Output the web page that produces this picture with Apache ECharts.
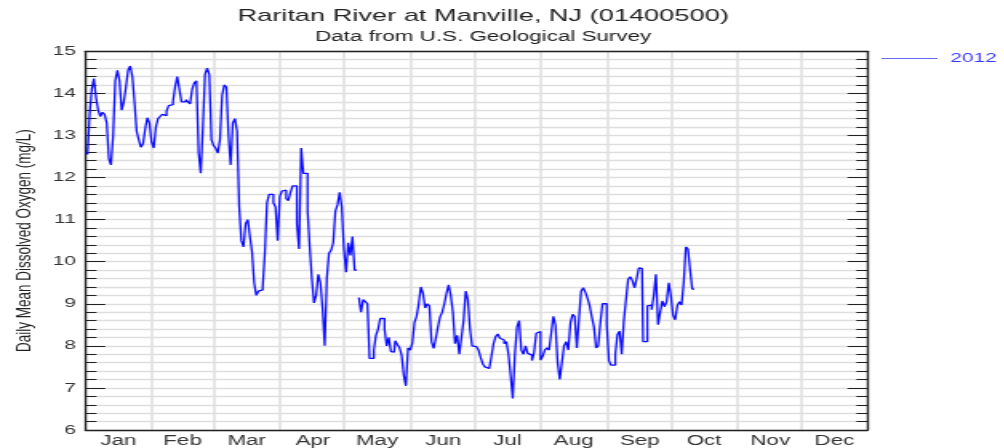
<!DOCTYPE html>
<html>
<head>
<meta charset="utf-8">
<script src="https://cdn.jsdelivr.net/npm/echarts@6/dist/echarts.min.js"></script>
<style>
    html, body { margin: 0; padding: 0; background: #fff; overflow: hidden; }
    /* the original picture is a chart stretched sideways, so draw narrow and stretch */
    #myChart {
        width: 627.5px;
        height: 448px;
        transform: scaleX(1.6);
        transform-origin: 0 0;
    }
</style>
</head>
<body>
<div id="myChart"></div>
<script>
    const monthNames = ['Jan', 'Feb', 'Mar', 'Apr', 'May', 'Jun', 'Jul', 'Aug', 'Sep', 'Oct', 'Nov', 'Dec']
    const monthDays = [31, 29, 31, 30, 31, 30, 31, 31, 30, 31, 30, 31]
    const yTicks = [6, 7, 8, 9, 10, 11, 12, 13, 14, 15]
    const seriesName = '2012'

    // daily mean dissolved oxygen (mg/L), from Jan 1 2012, null = missing day
    const janValues = [12.6, 12.55, 13.5, 14.1, 14.35, 13.9, 13.6, 13.45, 13.55, 13.5, 13.3, 12.45, 12.3, 13.0, 14.3, 14.55,
        14.3, 13.6, 13.8, 14.15, 14.55, 14.65, 14.4, 13.8, 13.1, 12.9, 12.72, 12.8, 13.15, 13.42, 13.3]
    const febValues = [12.84, 12.7, 13.2, 13.4, 13.45, 13.5, 13.47, 13.58, 13.71, 13.73, 13.8, 14.15, 14.4, 14.1, 13.8,
        13.8, 13.85, 13.8, 13.75, 14.1, 14.25, 14.3, 12.6, 12.1, 13.2, 14.45, 14.6, 14.45, 12.9]
    const marValues = [12.76, 12.7, 12.58, 12.9, 13.95, 14.2, 14.15, 13.0, 12.3, 13.3, 13.4, 13.1, 11.3, 10.5, 10.35, 10.9,
        11.0, 10.6, 10.23, 9.5, 9.2, 9.3, 9.33, 9.4, 10.2, 11.4, 11.6, 11.6, 11.4, 11.3, 10.5]
    const aprValues = [11.55, 11.68, 11.7, 11.5, 11.45, 11.65, 11.8, 11.8, 10.9, 10.3, 12.7, 12.1, 12.1, 11.2, 10.35, 9.6,
        9.02, 9.2, 9.7, 9.5, 8.9, 8.0, 9.6, 10.2, 10.27, 10.45, 11.2, 11.35, 11.65, 11.3]
    const mayValues = [10.3, 9.75, 10.45, 10.15, 10.6, 9.8, null, 9.15, 8.8, 9.1, 9.05, 9.0, 7.7, 7.7, 7.9, 8.25, 8.4,
        8.65, 8.65, 8.4, 8.0, 8.2, 7.86, 7.85, 8.12, 8.03, 7.96, 7.78, 7.3, 7.05, 7.95]
    const junValues = [7.9, 8.06, 8.55, 8.7, 9.0, 9.4, 9.25, 8.9, 9.0, 8.95, 8.1, 7.94, 8.18, 8.45, 8.69, 8.8, 9.0, 9.25,
        9.45, 9.2, 8.8, 8.05, 8.25, 7.8, 8.2, 8.6, 9.3, 9.1, 8.4, 8.0]
    const julValues = [7.98, 7.94, 7.9, 7.72, 7.57, 7.5, 7.46, 7.5, 7.74, 8.05, 8.22, 8.28, 8.18, 8.14, 8.05, 8.1, 7.8,
        7.3, 6.75, 7.8, 8.45, 8.6, 7.9, 7.8, 8.0, 7.82, 7.78, 7.65, 7.85, 8.3, 8.34]
    const augValues = [7.66, 7.75, 7.9, 7.95, 7.9, 8.3, 8.7, 8.49, 7.6, 7.2, 7.6, 8.0, 8.1, 7.9, 8.55, 8.75, 8.7, 7.95,
        8.65, 9.3, 9.38, 9.27, 9.13, 8.95, 8.69, 8.45, 7.95, 8.0, 8.55, 9.0, 9.0]
    const sepValues = [8.5, 7.65, 7.54, 7.54, 7.8, 8.27, 8.35, 7.8, 8.6, 9.1, 9.58, 9.64, 9.55, 9.38, 9.6, 9.85, 9.84,
        8.1, 8.1, 8.95, 8.97, 8.86, 9.2, 9.7, 8.5, 8.8, 9.07, 8.93, 9.05, 9.5]
    const octValues = [9.2, 8.73, 8.62, 8.95, 9.05, 8.97, 9.5, 10.35, 10.3, 9.8, 9.35]

    // one category per day of 2012
    let days = []
    let monthStarts = []
    let monthMids = []
    monthDays.forEach((n, m) => {
        monthStarts.push(days.length)
        monthMids.push(days.length + Math.floor(n / 2))
        for (let d = 1; d <= n; d++) {
            days.push('2012-' + String(m + 1).padStart(2, '0') + '-' + String(d).padStart(2, '0'))
        }
    })

    let values = [].concat(janValues, febValues, marValues, aprValues, mayValues, junValues,
        julValues, augValues, sepValues, octValues)
    while (values.length < days.length) values.push(null)

    const font = '"Liberation Sans", Arial, sans-serif'
    const gridColor = '#dedede'
    const axisColor = '#222'

    let myChart = echarts.init(document.getElementById('myChart'))
    myChart.setOption({
        animation: false,
        title: [
            {
                text: 'Raritan River at Manville, NJ (01400500)',
                left: 297,
                top: 3,
                textAlign: 'center',
                textStyle: {fontFamily: font, fontSize: 17, fontWeight: 'normal', color: '#222'}
            },
            {
                text: 'Data from U.S. Geological Survey',
                left: 297,
                top: 25,
                textAlign: 'center',
                textStyle: {fontFamily: font, fontSize: 14, fontWeight: 'normal', color: '#222'}
            }
        ],
        legend: {
            data: [{name: seriesName, icon: 'rect'}],
            left: 551,
            top: 52,
            padding: 0,
            itemWidth: 35,
            itemHeight: 1,
            itemGap: 4,
            itemStyle: {color: '#6a6aff'},
            textStyle: {fontFamily: font, fontSize: 13, color: '#3a3aff', padding: [0, 0, 0, 3]}
        },
        grid: {
            left: 51.7,
            right: 85.8,
            top: 51.3,
            bottom: 18
        },
        xAxis: [
            {
                type: 'category',
                data: days,
                boundaryGap: true,
                position: 'bottom',
                axisLine: {lineStyle: {color: axisColor, width: 1.3}},
                axisTick: {
                    inside: true,
                    length: 8,
                    interval: (i) => monthStarts.includes(i),
                    lineStyle: {color: axisColor, width: 1.4}
                },
                axisLabel: {
                    interval: (i) => monthMids.includes(i),
                    formatter: (v, i) => monthNames[monthMids.indexOf(i)],
                    margin: 4,
                    fontFamily: font,
                    fontSize: 14,
                    color: '#333'
                },
                splitLine: {
                    show: true,
                    interval: (i) => monthStarts.includes(i),
                    lineStyle: {color: gridColor, width: 1.5}
                }
            },
            {
                type: 'category',
                data: days,
                boundaryGap: true,
                position: 'top',
                axisLine: {lineStyle: {color: axisColor, width: 1.3}},
                axisTick: {
                    inside: true,
                    length: 8,
                    interval: (i) => monthStarts.includes(i),
                    lineStyle: {color: axisColor, width: 1.4}
                },
                axisLabel: {show: false},
                splitLine: {show: false}
            }
        ],
        yAxis: [
            {
                type: 'value',
                min: yTicks[0],
                max: yTicks[yTicks.length - 1],
                interval: 1,
                position: 'left',
                axisLine: {show: true, lineStyle: {color: axisColor, width: 1.3}},
                axisTick: {show: true, inside: true, length: 12.5, lineStyle: {color: axisColor, width: 1}},
                minorTick: {show: true, splitNumber: 5, length: 7, lineStyle: {color: axisColor, width: 1}},
                axisLabel: {margin: 6, fontFamily: font, fontSize: 13, color: '#333'},
                splitLine: {show: true, lineStyle: {color: gridColor, width: 1.3}},
                minorSplitLine: {show: true, lineStyle: {color: gridColor, width: 1.3}},
                name: 'Daily Mean Dissolved Oxygen (mg/L)',
                nameLocation: 'middle',
                nameRotate: 90,
                nameGap: 28,
                nameTextStyle: {fontFamily: font, fontSize: 13.5, color: '#222'}
            },
            {
                type: 'value',
                min: yTicks[0],
                max: yTicks[yTicks.length - 1],
                interval: 1,
                position: 'right',
                axisLine: {show: true, lineStyle: {color: axisColor, width: 1.3}},
                axisTick: {show: true, inside: true, length: 12.5, lineStyle: {color: axisColor, width: 1}},
                minorTick: {show: true, splitNumber: 5, length: 7, lineStyle: {color: axisColor, width: 1}},
                axisLabel: {show: false},
                splitLine: {show: false}
            }
        ],
        series: [
            {
                name: seriesName,
                type: 'line',
                data: values,
                step: 'middle',
                symbol: 'none',
                connectNulls: false,
                lineStyle: {color: '#0a0aff', width: 1.3},
                itemStyle: {color: '#0a0aff'}
            }
        ]
    })
</script>
</body>
</html>
